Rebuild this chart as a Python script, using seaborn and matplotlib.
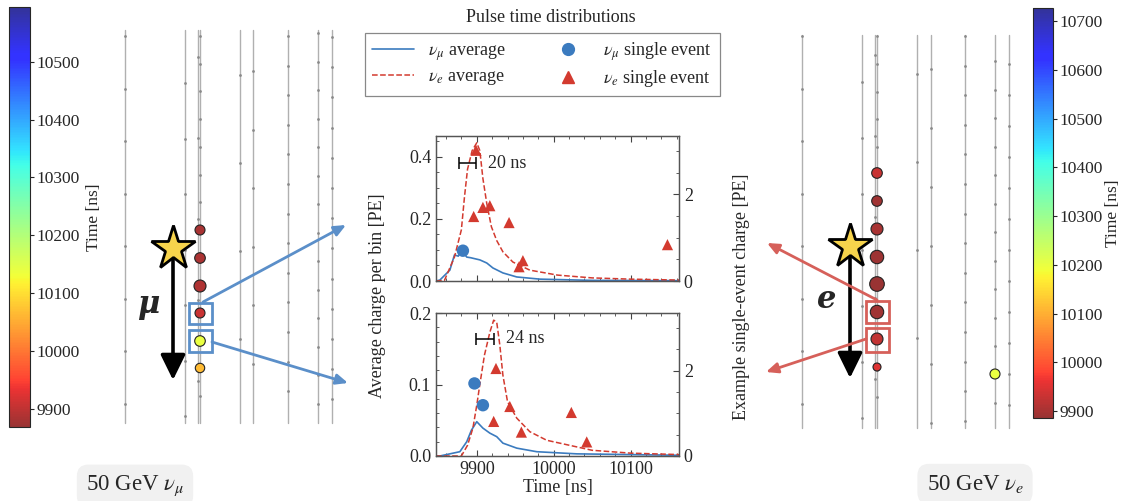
import numpy as np
import matplotlib
matplotlib.use('Agg')
import matplotlib.pyplot as plt
import matplotlib.cm as cm
import seaborn as sns
from matplotlib.colors import ListedColormap, Normalize
from matplotlib.lines import Line2D
from matplotlib.patches import Rectangle
from matplotlib.ticker import AutoMinorLocator, FormatStrFormatter

sns.set_style('ticks')
plt.rcParams['font.family'] = ['Liberation Serif', 'DejaVu Serif']
plt.rcParams['mathtext.fontset'] = 'stix'
plt.rcParams['font.size'] = 13

W, H = 1123, 501
blue = '#3b7bbf'
red = '#d33a2f'
arrow_blue = '#5b8fc9'
arrow_red = '#d6605a'

# ---- average pulse time distributions (left axis) ----
t_top_mu = [9847, 9852, 9865, 9871, 9876, 9880, 9887, 9892, 9904, 9913, 9921, 9934, 9952, 9982, 10050, 10163]
q_top_mu = [0.0, 0.003, 0.035, 0.084, 0.08, 0.1, 0.077, 0.075, 0.068, 0.058, 0.042, 0.026, 0.013, 0.006, 0.002, 0.001]
t_top_e = [9847, 9858, 9871, 9880, 9884, 9888, 9894, 9900, 9904, 9908, 9913, 9919, 9926, 9934, 9947, 9969, 10005, 10050, 10100, 10163]
q_top_e = [0.0, 0.002, 0.077, 0.165, 0.27, 0.36, 0.42, 0.445, 0.42, 0.33, 0.25, 0.175, 0.13, 0.094, 0.061, 0.035, 0.019, 0.01, 0.006, 0.003]

t_bot_mu = [9847, 9852, 9878, 9887, 9893, 9900, 9908, 9917, 9926, 9934, 9952, 9978, 10030, 10100, 10163]
q_bot_mu = [0.0, 0.0, 0.006, 0.02, 0.036, 0.048, 0.039, 0.032, 0.027, 0.018, 0.011, 0.006, 0.003, 0.002, 0.001]
t_bot_e = [9847, 9880, 9888, 9895, 9900, 9904, 9910, 9917, 9922, 9926, 9930, 9934, 9940, 9952, 9969, 9991, 10050, 10100, 10163]
q_bot_e = [0.0, 0.0, 0.015, 0.039, 0.071, 0.10, 0.141, 0.173, 0.19, 0.187, 0.155, 0.113, 0.076, 0.053, 0.034, 0.022, 0.008, 0.004, 0.002]

# ---- example single events (right axis) ----
t_top_mu_ev = [9882]
q_top_mu_ev = [0.70]
t_top_e_ev = [9899, 9896, 9908, 9917, 9942, 9955, 9960, 10148]
q_top_e_ev = [3.02, 1.49, 1.70, 1.74, 1.35, 0.33, 0.47, 0.84]
t_bot_mu_ev = [9897, 9908]
q_bot_mu_ev = [1.70, 1.19]
t_bot_e_ev = [9925, 9922, 9943, 9958, 10023, 10043]
q_bot_e_ev = [2.05, 0.81, 1.16, 0.56, 1.02, 0.33]

# ---- event displays (schematic, pixel space) ----
# strings: (x, first DOM depth, DOM spacing)
strings_mu = [(125, 36, 52.5), (185, 83, 55.5), (198, 57, 81), (200, 36, 27.7), (240, 75, 88),
              (253, 71, 58.5), (288, 36, 29.6), (318, 33, 28.5), (332, 37, 30.2)]
strings_e = [(802, 36, 52.5), (862, 82, 56), (875, 55, 81), (877, 36, 27.8), (917, 74, 88),
             (931, 69, 59), (965, 36, 29.6), (995, 61, 28.5), (1009, 64, 31)]
hit_mu_x = [200, 200, 200, 200, 200, 200]
hit_mu_z = [230, 258, 286, 313, 341, 368]
hit_mu_t = [9880, 9884, 9886, 9905, 10140, 10065]
hit_mu_r = [5, 5.3, 6, 5, 5.3, 4.7]
hit_e_x = [877, 877, 877, 877, 877, 877, 877, 877, 995]
hit_e_z = [173, 201, 229, 257, 284, 312, 339, 367, 374]
hit_e_t = [9930, 9895, 9900, 9890, 9888, 9895, 9925, 9950, 10200]
hit_e_r = [5.3, 5.3, 6, 6.7, 7.3, 6.7, 6, 4, 5]

base = plt.get_cmap('jet_r')(np.linspace(0, 1, 256))[:, :3]
cmap = ListedColormap(0.8 * base + 0.2)
norm_mu = Normalize(9868, 10595)
norm_e = Normalize(9886, 10727)

fig = plt.figure(figsize=(W / 100, H / 100), dpi=100)

# background overlay in pixel coordinates
bg = fig.add_axes([0, 0, 1, 1])
bg.set_xlim(0, W)
bg.set_ylim(H, 0)
bg.axis('off')

for strings, top, bottom in [(strings_mu, 30, 423), (strings_e, 35, 428)]:
    for x, z0, dz in strings:
        bg.plot([x, x], [top, bottom], color='#b0b0b0', lw=1, zorder=1)
        zs = np.arange(z0, bottom - 4, dz)
        bg.scatter(np.full(len(zs), x), zs, s=4, color='#8a8a8a', zorder=2, linewidths=0)

for xs, zs, ts, rs, nrm in [(hit_mu_x, hit_mu_z, hit_mu_t, hit_mu_r, norm_mu),
                            (hit_e_x, hit_e_z, hit_e_t, hit_e_r, norm_e)]:
    sizes = [(2 * r * 0.72) ** 2 for r in rs]
    bg.scatter(xs, zs, c=ts, cmap=cmap, norm=nrm, s=sizes, edgecolors='#222222',
               linewidths=0.8, zorder=4)

# track arrows + vertex stars
for x, z0, z1, lab, lx, ly in [(173, 252, 380, 'μ', 148, 305), (850, 250, 378, 'e', 827, 300)]:
    bg.annotate('', xy=(x, z1), xytext=(x, z0),
                arrowprops=dict(arrowstyle='-|>,head_length=0.55,head_width=0.27',
                                color='black', lw=2.6, mutation_scale=28, shrinkA=0, shrinkB=0),
                zorder=3)
    bg.plot([x], [z0 - 4], marker='*', ms=33, mfc='#f7d44c', mec='black', mew=2, zorder=5)
    bg.text(lx, ly, lab, fontsize=22, style='italic', fontweight='bold',
            family='DejaVu Serif', ha='center', va='center')

# boxes and pointers to the pulse plots
for (x0, y0, x1, y1), col in [((189, 303, 212, 324), arrow_blue), ((189, 330, 212, 352), arrow_blue),
                              ((866, 301, 889, 323), arrow_red), ((866, 328, 889, 352), arrow_red)]:
    bg.add_patch(Rectangle((x0, y0), x1 - x0, y1 - y0, fill=False, ec=col, lw=2, zorder=6))
for (xa, ya, xb, yb), col in [((203, 302, 346, 225), arrow_blue), ((212, 342, 348, 383), arrow_blue),
                              ((877, 300, 767, 243), arrow_red), ((866, 339, 766, 372), arrow_red)]:
    bg.annotate('', xy=(xb, yb), xytext=(xa, ya),
                arrowprops=dict(arrowstyle='-|>,head_length=0.5,head_width=0.22', color=col,
                                lw=2, mutation_scale=14, shrinkA=0, shrinkB=0), zorder=6)

for x, y, s in [(135, 486, r'50 GeV $\nu_\mu$'), (975, 484, r'50 GeV $\nu_e$')]:
    bg.text(x, y, s, fontsize=16.5, ha='center', va='center',
            bbox=dict(boxstyle='round,pad=0.4,rounding_size=0.5', fc='#f1f1f1', ec='none'))

# colorbars
for rect, nrm, ticks, pad in [([9 / W, 1 - 427 / H, 21 / W, 420 / H], norm_mu, list(range(9900, 10501, 100)), 4),
                              ([1033 / W, 1 - 418 / H, 20 / W, 410 / H], norm_e, list(range(9900, 10701, 100)), 1)]:
    cax = fig.add_axes(rect)
    cb = fig.colorbar(cm.ScalarMappable(norm=nrm, cmap=cmap), cax=cax)
    cb.set_ticks(ticks)
    cb.set_ticklabels([str(t) for t in ticks], fontfamily='Liberation Serif', fontsize=12.5)
    cb.set_label('Time [ns]', fontsize=12.5, labelpad=pad, fontfamily='Liberation Serif')
    cb.ax.tick_params(length=3, width=0.8, pad=2)
    cb.outline.set_linewidth(0.8)

# pulse time distributions
panels = [
    (281, 145, (0, 0.467), t_top_mu, q_top_mu, t_top_e, q_top_e,
     t_top_mu_ev, q_top_mu_ev, t_top_e_ev, q_top_e_ev, (9877, 9899, 0.38, '20 ns')),
    (456, 143, (0, 0.2), t_bot_mu, q_bot_mu, t_bot_e, q_bot_e,
     t_bot_mu_ev, q_bot_mu_ev, t_bot_e_ev, q_bot_e_ev, (9899, 9923, 0.164, '24 ns')),
]
for i, (ybot, h, ylim, tm, qm, te, qe, tme, qme, tee, qee, bar) in enumerate(panels):
    ax = fig.add_axes([436 / W, 1 - ybot / H, 243 / W, h / H])
    sns.lineplot(x=tm, y=qm, ax=ax, color=blue, lw=1.2, sort=False)
    sns.lineplot(x=te, y=qe, ax=ax, color=red, lw=1.1, linestyle='--', sort=False)
    ax.set_xlim(9847, 10163)
    ax.set_ylim(*ylim)
    ax.yaxis.set_major_formatter(FormatStrFormatter('%.1f'))
    ax.set_yticks([0.0, 0.2, 0.4] if i == 0 else [0.0, 0.1, 0.2])
    ax.set_xticks([9900, 10000, 10100])
    ax.xaxis.set_minor_locator(AutoMinorLocator())
    ax.yaxis.set_minor_locator(AutoMinorLocator())
    ax.tick_params(which='both', direction='in', top=True, right=False, labelsize=13,
                   color='#444444')
    ax.tick_params(which='major', length=4)
    ax.tick_params(which='minor', length=2)
    ax.set_ylabel('')
    if i == 0:
        ax.tick_params(labelbottom=False)
    else:
        ax.set_xlabel('Time [ns]', fontsize=13, labelpad=1)
    x0, x1, yb, lab = bar
    ax.errorbar([(x0 + x1) / 2], [yb], xerr=[(x1 - x0) / 2], color='black', lw=1.1,
                capsize=4.5, capthick=1.1)
    ax.text(x1 + 15, yb, lab, fontsize=13, ha='left', va='center')
    for sp in ax.spines.values():
        sp.set_color('#555555')
        sp.set_linewidth(0.9)

    ax2 = ax.twinx()
    sns.scatterplot(x=tme, y=qme, ax=ax2, color=blue, marker='o', s=80, edgecolor='none')
    sns.scatterplot(x=tee, y=qee, ax=ax2, color=red, marker='^', s=65, edgecolor='none')
    ax2.set_ylim(0, 3.35)
    ax2.set_yticks([0, 2])
    ax2.yaxis.set_minor_locator(AutoMinorLocator())
    ax2.tick_params(which='both', direction='in', labelsize=13, color='#444444')
    ax2.tick_params(which='major', length=4)
    ax2.tick_params(which='minor', length=2)
    ax2.set_ylabel('')
    for sp in ax2.spines.values():
        sp.set_color('#555555')
        sp.set_linewidth(0.9)

fig.text(378 / W, 1 - 296 / H, 'Average charge per bin [PE]', rotation=90,
         ha='center', va='center', fontsize=13)
fig.text(741 / W, 1 - 297 / H, 'Example single-event charge [PE]', rotation=90,
         ha='center', va='center', fontsize=13)
fig.text(551 / W, 1 - 18 / H, 'Pulse time distributions', ha='center', va='center', fontsize=13)

handles = [Line2D([], [], color=blue, lw=1.2),
           Line2D([], [], color=red, lw=1.1, ls='--'),
           Line2D([], [], color=blue, marker='o', ls='none', ms=8.5),
           Line2D([], [], color=red, marker='^', ls='none', ms=8)]
labels = [r'$\nu_\mu$ average', r'$\nu_e$ average',
          r'$\nu_\mu$ single event', r'$\nu_e$ single event']
leg = fig.legend(handles, labels, loc='upper left', bbox_to_anchor=(365 / W, 1 - 33 / H),
                 ncol=2, fancybox=False, edgecolor='#888888', framealpha=1,
                 borderaxespad=0, handlelength=2.3, handletextpad=0.8,
                 columnspacing=2.3, labelspacing=0.3, fontsize=13)
leg.get_frame().set_linewidth(0.9)

fig.savefig('out.png', dpi=100)
